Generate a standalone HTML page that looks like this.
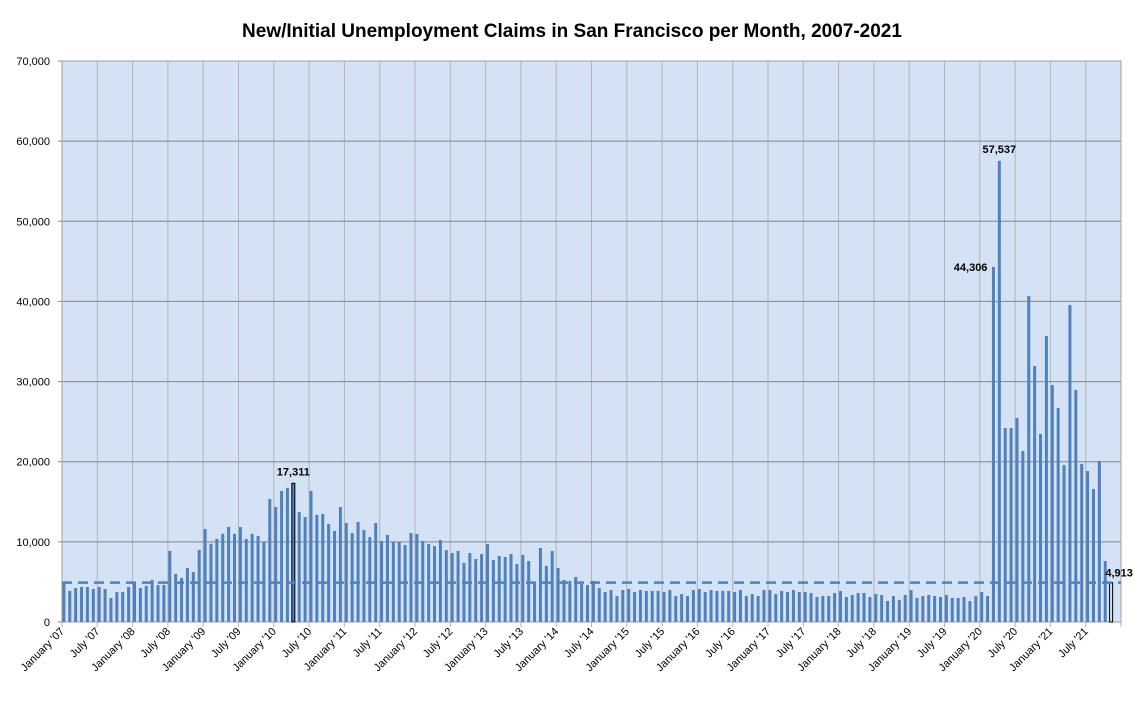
<!DOCTYPE html>
<html><head><meta charset="utf-8"><style>
body{margin:0;background:#fff;}
svg text{font-family:"Liberation Sans",sans-serif;}
</style></head><body>
<svg id="chart" width="1141" height="696" xmlns="http://www.w3.org/2000/svg">
<rect width="1141" height="696" fill="#fff"/>
<text x="572" y="37" text-anchor="middle" font-size="19" font-weight="bold" fill="#000">New/Initial Unemployment Claims in San Francisco per Month, 2007-2021</text>
<rect x="62" y="61" width="1059" height="561" fill="#d3e2f4"/>
<g id="grid"></g><g id="bars"></g><g id="labels"></g>
</svg>
<script>
const values=[5030,3870,4240,4370,4370,4120,4370,4120,3000,3750,3750,4370,5030,4240,4500,5250,4620,4620,8860,6000,5500,6750,6250,9000,11600,9750,10370,11000,11850,11000,11850,10370,11000,10750,10000,15350,14350,16350,16730,17311,13730,13100,16350,13350,13480,12230,11360,14350,12350,11100,12480,11480,10600,12350,10110,10860,9980,9980,9610,11100,10980,10110,9730,9480,10230,8980,8610,8860,7360,8610,7860,8480,9730,7740,8240,8110,8480,7240,8360,7610,4870,9230,6990,8860,6740,5240,5120,5620,4740,4620,5120,4240,3740,3990,3240,3990,4120,3740,3990,3870,3870,3870,3740,3990,3240,3490,3240,3990,4120,3740,3990,3870,3870,3870,3740,3990,3240,3490,3240,3990,3990,3490,3870,3740,3990,3740,3740,3620,3120,3240,3240,3620,3870,3120,3370,3620,3620,3120,3490,3370,2620,3240,2750,3370,3990,3000,3240,3370,3240,3120,3370,3000,3000,3120,2620,3240,3740,3240,44306,57537,24210,24210,25460,21340,40680,31940,23460,35690,29570,26700,19590,39560,28950,19720,18840,16600,20090,7610,4913,null];
const yTicks=[0,10000,20000,30000,40000,50000,60000,70000];
const labeledIdx=[39,158,159,178];
const highlightIdx=[39,178];
const refValue=4913;
const months=["January","July"];
const NS="http://www.w3.org/2000/svg";
const X0=62,X1=1121,Y0=622,Y1=61,N=180,YMAX=70000;
const step=(X1-X0)/N;
function xs(i){return X0+i*step;}
function ys(v){return Y0-(v/YMAX)*(Y0-Y1);}
function mk(t,a,p){const e=document.createElementNS(NS,t);for(const k in a)e.setAttribute(k,a[k]);p.appendChild(e);return e;}
const grid=document.getElementById('grid'),bars=document.getElementById('bars'),lab=document.getElementById('labels');
for(let i=0;i<=N;i+=6){
 const l=mk('line',{x1:xs(i),x2:xs(i),y1:Y1,y2:Y0+5,stroke:'#b4b4b4','stroke-width':1},grid);
 
 
 if(i<N){
  const yr=String(7+Math.floor(i/12)).padStart(2,'0');
  const t=mk('text',{x:xs(i)+3,y:Y0+10,'font-size':11,'text-anchor':'end',transform:`rotate(-45 ${xs(i)+3} ${Y0+10})`,fill:'#000'},grid);
  t.textContent=months[(i/6)%2]+" '"+yr;
  
  
 }
}
yTicks.forEach(v=>{
 const l=mk('line',{x1:X0-4,x2:X1,y1:ys(v),y2:ys(v),stroke:'#868686','stroke-width':1},grid);
 
 
 const t=mk('text',{x:50,y:ys(v)+4,'font-size':11,'text-anchor':'end',fill:'#000'},grid);
 t.textContent=v.toLocaleString('en-US');
 
 
});
mk('line',{x1:X0,x2:X0,y1:Y1,y2:Y0,stroke:'#868686'},grid);
mk('rect',{x:X0,y:Y1,width:X1-X0,height:Y0-Y1,fill:'none',stroke:'#a0a0a0'},grid);
values.forEach((v,i)=>{
 if(v==null)return;
 const hl=highlightIdx.includes(i);
 const cx=xs(i)+step*0.32;
 const r=mk('rect',{x:cx-1.5,y:ys(v),width:3,height:Y0-ys(v),fill:hl&&i===178?'#d3e2f4':'#4f81bd',stroke:hl?'#000':'none','stroke-width':hl?1:0},bars);
 
 
});
const ref=mk('line',{x1:X0,x2:X1,y1:ys(refValue),y2:ys(refValue),stroke:'#4f81bd','stroke-width':2.5,'stroke-dasharray':'10 6'},bars);


labeledIdx.forEach(i=>{
 const v=values[i];const cx=xs(i)+step*0.32;
 let x=cx,anchor='middle',y=ys(v)-8;
 if(i===158){x=cx-6;anchor='end';y=ys(v)+4;}
 if(i===178){x=cx+8;y=ys(v)-6;}
 const t=mk('text',{x:x,y:y,'font-size':11,'font-weight':'bold','text-anchor':anchor,fill:'#000'},lab);
 t.textContent=v.toLocaleString('en-US');
 
 
});
</script>
</body></html>
